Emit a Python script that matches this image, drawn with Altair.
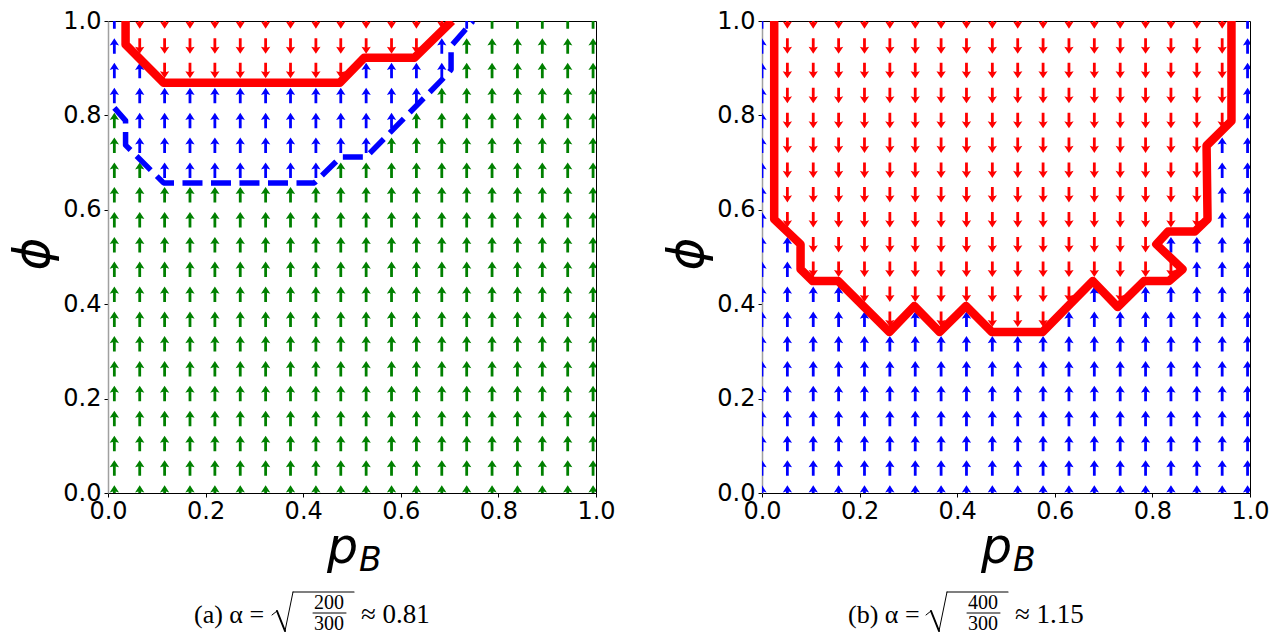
import altair as alt
import pandas as pd

# ---------------- data ----------------
# quiver grid (column positions per panel, row positions top -> bottom)
x_left = [0.013, 0.065, 0.116, 0.168, 0.219, 0.271, 0.323, 0.374, 0.426, 0.477,
          0.529, 0.581, 0.632, 0.684, 0.735, 0.787, 0.839, 0.890, 0.942, 0.994]
x_right = [0.000, 0.052, 0.105, 0.157, 0.210, 0.262, 0.314, 0.367, 0.419, 0.472,
           0.524, 0.576, 0.629, 0.681, 0.734, 0.786, 0.838, 0.891, 0.943, 0.995]
y_rows = [1.000, 0.947, 0.895, 0.842, 0.789, 0.737, 0.684, 0.632, 0.579, 0.526,
          0.474, 0.421, 0.368, 0.316, 0.263, 0.211, 0.158, 0.105, 0.053, 0.000]

# arrow class per grid cell, one string per row (top row first)
# r = red arrow pointing down, b = blue arrow pointing up, g = green arrow pointing up
cells_left = [
    "brrrrrrrrrrrrrbggggg",
    "brrrrrrrrrrrrbgggggg",
    "bbrrrrrrrrbbbbgggggg",
    "bbbbbbbbbbbbbggggggg",
    "gbbbbbbbbbbbgggggggg",
    "gbbbbbbbbbbggggggggg",
    "ggbbbbbbbggggggggggg",
] + ["gggggggggggggggggggg"] * 13

cells_right = (
    ["brrrrrrrrrrrrrrrrrrb"] * 5
    + ["brrrrrrrrrrrrrrrrrbb"] * 4
    + ["bbrrrrrrrrrrrrrrbbbb",
       "bbrrrrrrrrrrrrrrrbbb",
       "bbbbrrrrrrrrrbrbbbbb",
       "bbbbbrbrbrrrbbbbbbbb"]
    + ["bbbbbbbbbbbbbbbbbbbb"] * 7
)

# boundary curves
red_left_x = [0.036, 0.036, 0.114, 0.475, 0.525, 0.628, 0.705]
red_left_y = [1.000, 0.950, 0.869, 0.869, 0.922, 0.922, 1.000]

blue_left_x = [0.013, 0.036, 0.036, 0.114, 0.423, 0.477, 0.529, 0.698, 0.703, 0.703, 0.748]
blue_left_y = [0.816, 0.789, 0.737, 0.657, 0.657, 0.712, 0.712, 0.890, 0.897, 0.947, 1.000]

red_right_x = [0.025, 0.025, 0.079, 0.079, 0.104, 0.156, 0.261, 0.312, 0.364, 0.418,
               0.471, 0.575, 0.678, 0.729, 0.783, 0.834, 0.862, 0.808, 0.832, 0.887,
               0.913, 0.911, 0.962, 0.962]
red_right_y = [1.000, 0.580, 0.527, 0.474, 0.449, 0.449, 0.341, 0.396, 0.341, 0.396,
               0.341, 0.341, 0.449, 0.394, 0.449, 0.449, 0.474, 0.527, 0.554, 0.554,
               0.580, 0.736, 0.788, 1.000]

ticks = [0.0, 0.2, 0.4, 0.6, 0.8, 1.0]

# ---------------- styling ----------------
W, H = 488, 472
UP = "M-0.18,1L0.18,1L0.18,-0.2L0.6,-0.08L0,-1L-0.6,-0.08L-0.18,-0.2Z"
DOWN = "M-0.18,-1L0.18,-1L0.18,0.2L0.6,0.08L0,1L-0.6,0.08L-0.18,0.2Z"
SERIF = "Liberation Serif"
SANS = "DejaVu Sans"


def axis_x():
    return alt.Axis(values=ticks, format=".1f", title=None, grid=False, labelFlush=False,
                    labelFont=SANS, labelFontSize=24, labelColor="black", labelPadding=2,
                    tickSize=4, tickColor="black", domainColor="black", domainWidth=1)


def axis_y():
    return alt.Axis(values=ticks, format=".1f", title=None, grid=False, labelFlush=False,
                    labelFont=SANS, labelFontSize=24, labelColor="black", labelPadding=3,
                    tickSize=4, tickColor="black", domainColor="#a0a0a0", domainWidth=1.5)


def text(t, px, py, size, font, style="normal", align="left", angle=0, baseline="alphabetic"):
    return alt.Chart(pd.DataFrame({"t": [t]})).mark_text(
        font=font, fontSize=size, fontStyle=style, align=align, baseline=baseline,
        angle=angle, color="black"
    ).encode(text="t:N", x=alt.value(px), y=alt.value(py))


def seg(x1, y1, x2, y2, w):
    return alt.Chart(pd.DataFrame({"t": [0]})).mark_rule(color="black", strokeWidth=w, strokeCap="round").encode(
        x=alt.value(x1), y=alt.value(y1), x2=alt.value(x2), y2=alt.value(y2))


def panel(xs, cells, curves, prefix, num, den, approx):
    recs = []
    for ri, row in enumerate(cells):
        for ci, ch in enumerate(row):
            recs.append({"x": xs[ci], "y": y_rows[ri], "cls": ch})
    df = pd.DataFrame(recs)
    xsc = alt.Scale(domain=[0, 1], nice=False, zero=False)
    ysc = alt.Scale(domain=[0, 1], nice=False, zero=False)
    cdom = ["r", "b", "g"]
    crange = ["#ff0000", "#0000ff", "#008000"]
    arrows = alt.Chart(df).mark_point(filled=True, size=240, opacity=1, strokeWidth=0.4, clip=True).encode(
        x=alt.X("x:Q", scale=xsc, axis=axis_x()),
        y=alt.Y("y:Q", scale=ysc, axis=axis_y()),
        color=alt.Color("cls:N", scale=alt.Scale(domain=cdom, range=crange), legend=None),
        shape=alt.Shape("cls:N", scale=alt.Scale(domain=cdom, range=[DOWN, UP, UP]), legend=None),
    )
    layers = [arrows]
    for cx, cy, color, dashed in curves:
        cdf = pd.DataFrame({"x": cx, "y": cy, "i": list(range(len(cx)))})
        kw = dict(color=color, clip=True, strokeJoin="round")
        if dashed:
            kw.update(strokeWidth=5.5, strokeDash=[20, 8.5], strokeCap="butt")
        else:
            kw.update(strokeWidth=8.5, strokeCap="butt")
        layers.append(alt.Chart(cdf).mark_line(**kw).encode(
            x=alt.X("x:Q", scale=xsc), y=alt.Y("y:Q", scale=ysc), order="i:Q"))
    # axis titles
    layers.append(text("ϕ", -74, 233, 50, SANS, style="italic", align="center", angle=270, baseline="middle"))
    layers.append(text("p", 219, 542, 49, SANS, style="italic"))
    layers.append(text("B", 251, 550, 33, SANS, style="italic"))
    # caption: prefix, radical over a stacked fraction, approximation
    layers.append(text(prefix, 86, 602, 26, SERIF))
    layers.append(seg(164, 594, 169, 590, 1.0))
    layers.append(seg(169, 590, 177, 610, 2.0))
    layers.append(seg(177, 610, 185, 571, 1.0))
    layers.append(seg(185, 571, 246, 571, 1.1))
    layers.append(text(num, 221, 588, 20, SERIF, align="center"))
    layers.append(seg(205, 592, 238, 592, 1.0))
    layers.append(text(den, 221, 609, 20, SERIF, align="center"))
    layers.append(text(approx, 253, 602, 27, SERIF))
    return alt.layer(*layers).properties(width=W, height=H)


left = panel(x_left, cells_left,
             [(red_left_x, red_left_y, "#ff0000", False),
              (blue_left_x, blue_left_y, "#0000ff", True)],
             "(a) α =", "200", "300", "≈ 0.81")
right = panel(x_right, cells_right,
              [(red_right_x, red_right_y, "#ff0000", False)],
              "(b) α =", "400", "300", "≈ 1.15")

chart = alt.hconcat(left, right, spacing=166, bounds="flush").properties(
    padding={"left": 0, "top": 0, "right": 5, "bottom": 0}
).configure_view(stroke="black", strokeWidth=1)

chart.save("out.html", embed_options={"renderer": "svg", "actions": False})
